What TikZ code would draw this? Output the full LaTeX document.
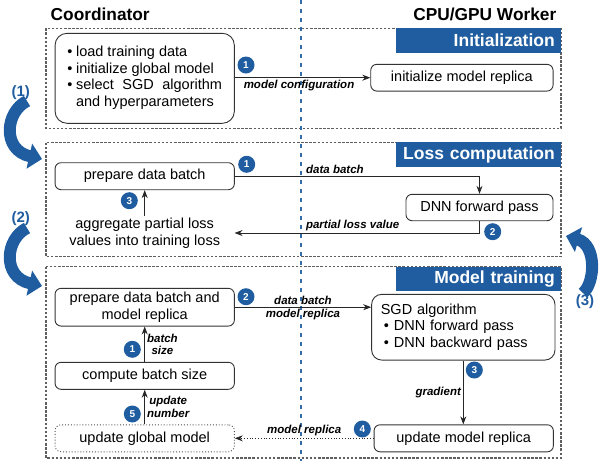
\documentclass[tikz,border=0pt]{standalone}
\usepackage{fontspec}
\setmainfont{Liberation Sans}
\usepackage{tikz}
\usetikzlibrary{arrows.meta}
\definecolor{hdrblue}{RGB}{31,93,160}
\definecolor{framegray}{RGB}{95,95,95}

\begin{document}
\begin{tikzpicture}[x=1pt, y=-1pt,
  every node/.style = {font=\fontsize{14.5}{16.5}\selectfont},
  proc/.style = {draw=black!80, line width=0.9pt, rounded corners=6pt,
    minimum width=179.3pt, minimum height=27pt, align=center, inner sep=2pt},
  frame/.style = {draw=framegray, line width=1.3pt, dash pattern=on 2.5pt off 1.6pt},
  head/.style = {fill=hdrblue, text=white, anchor=north east, text width=153pt,
    minimum height=24.5pt, inner xsep=6pt, align=right,
    font=\fontsize{17.5}{20}\selectfont\bfseries},
  title/.style = {inner sep=0pt, font=\fontsize{17.3}{20}\selectfont\bfseries},
  num/.style = {circle, fill=hdrblue, text=white, minimum size=17pt, inner sep=0pt,
    font=\fontsize{10}{10}\selectfont\bfseries},
  lab/.style = {inner sep=2pt, font=\fontsize{11.5}{12.5}\selectfont\bfseries\itshape},
  flow/.style = {draw=black!85, line width=0.8pt, -{Stealth[length=8pt,width=6pt]}},
  cycle/.style = {draw=hdrblue, line width=12pt, -{Triangle[length=13pt,width=25pt]}},
  cyclab/.style = {text=hdrblue, inner sep=0pt, font=\fontsize{15}{15}\selectfont\bfseries},
  vline/.style = {draw=hdrblue!90, line width=2pt, dash pattern=on 4pt off 5pt}]
  \useasboundingbox (0,0) rectangle (599,461);

  \node[title, anchor=base west] (coord) at (50.5,20.7) {Coordinator};
  \node[title, anchor=base east] (worker) at (556.5,20.7) {CPU/GPU Worker};

  \draw[frame] (46,28.3) rectangle (561,128.3);
  \draw[frame] (46,142.7) rectangle (561,256.7);
  \draw[frame] (46,266.7) rectangle (561,458);
  \draw[vline] (300.5,0) -- (300.5,461);
  \node[head] (hinit) at (561,28) {Initialization};
  \node[head] (hloss) at (561,142.2) {Loss computation};
  \node[head] (htrain) at (561,266.5) {Model training};

  % initialization
  \node[proc, rounded corners=12pt, minimum height=90pt] (init) at (144.7,78.3)
    {\begin{tabular}{@{}l@{\hspace{3.6pt}}l@{}}
      \textbullet & load training data\\
      \textbullet & initialize global model\\
      \textbullet & \makebox[146pt][s]{select SGD algorithm}\\
                  & and hyperparameters
    \end{tabular}};
  \node[proc, minimum width=182.3pt, minimum height=26.7pt] (repl) at (461.9,77.7)
    {initialize model replica};
  \node[num] (ni1) at (246,65) {1};
  \draw[flow] (init.east |- repl.west) -- node[lab, below, pos=0.474] {model configuration} (repl.west);

  % loss computation
  \node[proc] (prep) at (144.7,176.2) {prepare data batch};
  \node[proc, minimum width=147pt, minimum height=26.4pt] (dnn) at (479.5,207.5) {DNN forward pass};
  \node[inner sep=2pt, minimum width=179.3pt, align=center] (agg) at (144.7,233)
    {aggregate partial loss\\values into training loss};
  \node[num] (nl1) at (246.7,164.3) {1};
  \node[num] (nl2) at (492.7,231.7) {2};
  \node[num] (nl3) at (129.3,200.7) {3};
  \draw[flow] (prep.east) -| node[lab, above right, pos=0.141] {data batch} (dnn.north);
  \draw[flow] (dnn.south) |- node[lab, above right, pos=0.859] {partial loss value} (agg.east);
  \draw[flow] (agg.north) -- (prep.south);

  % model training
  \node[proc, minimum height=37.7pt] (prep2) at (144.7,307.2) {prepare data batch and\\model replica};
  \node[proc, minimum width=183.3pt, minimum height=65.7pt, rounded corners=10pt,
    text width=165pt, inner xsep=9pt, align=left] (sgd) at (463.3,327.2)
    {SGD algorithm\\
     \hspace*{3pt}\textbullet\hspace{5pt}DNN forward pass\\
     \hspace*{3pt}\textbullet\hspace{5pt}DNN backward pass};
  \node[proc] (cbs) at (144.7,375.8) {compute batch size};
  \node[proc, draw=black!70, dotted] (glob) at (144.7,438.3) {update global model};
  \node[proc] (upd) at (463.7,438.3) {update model replica};
  \node[num] (nt2) at (246,296.7) {2};
  \node[num] (nt1) at (132.3,349.3) {1};
  \node[num] (nt3) at (474.3,370) {3};
  \node[num] (nt4) at (362.3,429) {4};
  \node[num] (nt5) at (132.3,414) {5};
  \draw[flow] (prep2.east) -- node[lab, above] {data batch} node[lab, below] {model replica}
    (prep2.east -| sgd.west);
  \draw[flow] (sgd.south) -- node[lab, left] {gradient} (sgd.south |- upd.north);
  \draw[flow, dotted] (upd.west) -- node[lab, above] {model replica} (glob.east);
  \draw[flow] (cbs.north) -- node[lab, right, align=center] {batch\\size} (prep2.south);
  \draw[flow] (glob.north) -- node[lab, right, align=center] {update\\number} (cbs.south);

  % phase cycle
  \draw[cycle] (27,101) .. controls (5,112) and (2,150) .. (42,159);
  \draw[cycle] (27,228) .. controls (5,239) and (2,277) .. (42,286);
  \draw[cycle] (583,293) .. controls (595,283) and (597,245) .. (566,236);
  \node[cyclab] (c1) at (20.7,92.7) {(1)};
  \node[cyclab] (c2) at (20.7,218.3) {(2)};
  \node[cyclab] (c3) at (585,302) {(3)};
\end{tikzpicture}
\end{document}
